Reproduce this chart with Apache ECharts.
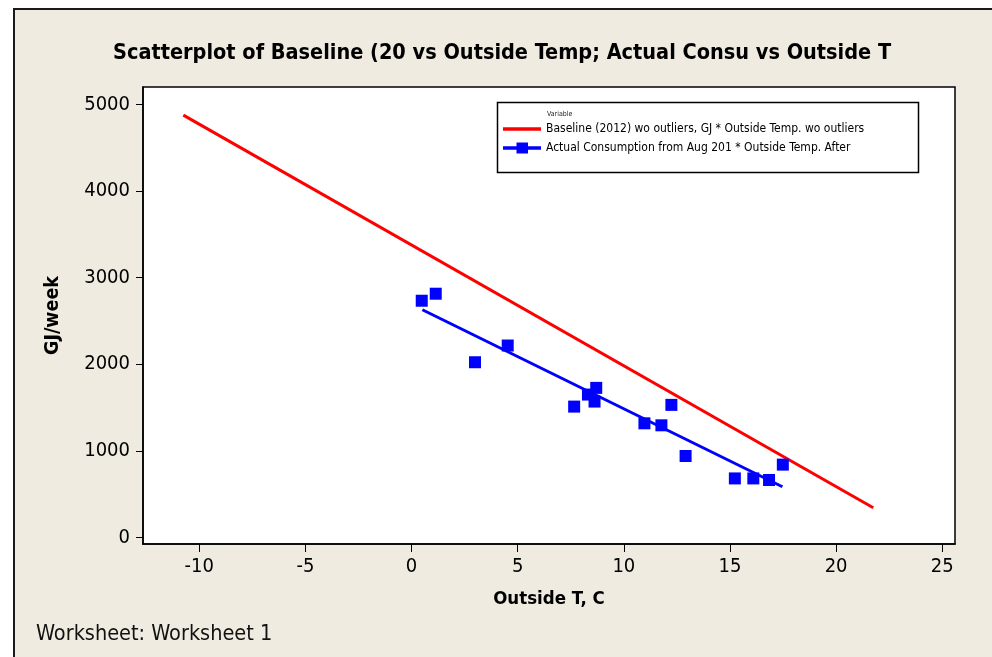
<!DOCTYPE html>
<html>
<head>
<meta charset="utf-8">
<script src="https://cdn.jsdelivr.net/npm/echarts@6/dist/echarts.min.js"></script>
<style>
  html, body { margin: 0; padding: 0; background: #ffffff; }
  #chart { width: 992px; height: 657px; }
</style>
</head>
<body>
<div id="chart"></div>
<script>
// Weekly energy use (GJ/week) against outside temperature (°C)
const xTicks = [-10, -5, 0, 5, 10, 15, 20, 25];
const yTicks = [0, 1000, 2000, 3000, 4000, 5000];

// Fitted baseline (2012) line, outliers removed: end points
const baselineFitX = [-10.75, 21.75];
const baselineFitY = [4875, 343];

// Actual consumption observations
const actualTemp = [0.48, 1.14, 2.99, 4.53, 7.66, 8.31, 8.70, 8.62, 10.97, 11.77, 12.24, 12.91, 15.23, 16.10, 16.84, 17.49];
const actualGJ   = [2733, 2814, 2023, 2216, 1511, 1650, 1727, 1569, 1318, 1295, 1531, 941, 682, 682, 664, 841];

// Fitted line through the actual consumption: end points
const actualFitX = [0.51, 17.47];
const actualFitY = [2629, 586];

const baselineName = 'Baseline (2012) wo outliers, GJ * Outside Temp. wo outliers';
const actualName = 'Actual Consumption from Aug 201 * Outside Temp. After';

const FONT = '"DejaVu Sans Condensed", "DejaVu Sans", sans-serif';

// Legend keys: a thick line, and a thick line crossed by a square marker
const ICON_LINE = 'path://M0,0M0,12M0,4.3H38V7.7H0Z';
const ICON_LINE_SQUARE = 'path://M0,0M0,12M0,4.3H38V7.7H0Z M13.5,0.5H25V11.5H13.5Z';

const zip = (xs, ys) => xs.map((x, i) => [x, ys[i]]);

const chart = echarts.init(document.getElementById('chart'), null, { renderer: 'canvas' });

chart.setOption({
  animation: false,
  backgroundColor: '#ffffff',
  graphic: [
    {
      type: 'rect', z: -10, silent: true,
      shape: { x: 14, y: 9, width: 1000, height: 700 },
      style: { fill: '#EFEBE1', stroke: '#1a1a1a', lineWidth: 2 }
    },
    {
      type: 'rect', z: 10, silent: true,
      shape: { x: 497.5, y: 102.5, width: 421, height: 70 },
      style: { fill: '#ffffff', stroke: '#000000', lineWidth: 1.5 }
    },
    {
      type: 'text', z: 11, silent: true,
      style: { x: 547, y: 114, text: 'Variable', fill: '#222', font: '7px ' + FONT, textVerticalAlign: 'middle' }
    },
    {
      type: 'text', z: 11, silent: true,
      style: { x: 36, y: 634, text: 'Worksheet: Worksheet 1', fill: '#111', font: '21.5px ' + FONT, textVerticalAlign: 'middle' }
    }
  ],
  title: {
    text: 'Scatterplot of Baseline (20 vs Outside Temp; Actual Consu vs Outside T',
    left: 108, top: 37,
    textStyle: { fontFamily: FONT, fontWeight: 'bold', fontSize: 21.5, color: '#000' }
  },
  legend: {
    z: 12,
    orient: 'vertical',
    left: 503, top: 123, padding: 0,
    itemWidth: 38, itemHeight: 12, itemGap: 7,
    selectedMode: false,
    textStyle: { fontFamily: FONT, fontSize: 12, color: '#000' },
    data: [
      { name: baselineName, icon: ICON_LINE, itemStyle: { color: '#FF0000' } },
      { name: actualName, icon: ICON_LINE_SQUARE, itemStyle: { color: '#0000FF' } }
    ]
  },
  grid: {
    left: 143, top: 87, right: 37, bottom: 113,
    show: true, backgroundColor: '#ffffff', borderColor: '#000', borderWidth: 1.5
  },
  xAxis: {
    type: 'value', min: -12.65, max: 25.6,
    name: 'Outside T, C', nameLocation: 'middle', nameGap: 46,
    nameTextStyle: { fontFamily: FONT, fontWeight: 'bold', fontSize: 18.5, color: '#000' },
    axisLine: { show: true, onZero: false, lineStyle: { color: '#000', width: 1.5 } },
    axisTick: { show: true, length: 8, customValues: xTicks, lineStyle: { color: '#000' } },
    axisLabel: { customValues: xTicks, margin: 13, fontFamily: FONT, fontSize: 20, color: '#000' },
    splitLine: { show: false }
  },
  yAxis: {
    type: 'value', min: -75, max: 5200,
    name: 'GJ/week', nameLocation: 'middle', nameGap: 80, nameRotate: 90,
    nameTextStyle: { fontFamily: FONT, fontWeight: 'bold', fontSize: 19.5, color: '#000' },
    axisLine: { show: true, onZero: false, lineStyle: { color: '#000', width: 1.5 } },
    axisTick: { show: true, length: 7, customValues: yTicks, lineStyle: { color: '#000' } },
    axisLabel: { customValues: yTicks, margin: 13, formatter: v => String(v), fontFamily: FONT, fontSize: 20, color: '#000' },
    splitLine: { show: false }
  },
  series: [
    {
      name: baselineName, type: 'line',
      data: zip(baselineFitX, baselineFitY),
      symbol: 'none', lineStyle: { color: '#FF0000', width: 3 },
      itemStyle: { color: '#FF0000' }, z: 3
    },
    {
      name: actualName, type: 'line',
      data: zip(actualFitX, actualFitY),
      symbol: 'none',
      lineStyle: { color: '#0000FF', width: 3 },
      itemStyle: { color: '#0000FF' }, z: 3
    },
    {
      name: actualName, type: 'scatter',
      data: zip(actualTemp, actualGJ),
      symbol: 'rect', symbolSize: 12,
      itemStyle: { color: '#0000FF', opacity: 1 }, z: 4
    }
  ]
});
</script>
</body>
</html>
